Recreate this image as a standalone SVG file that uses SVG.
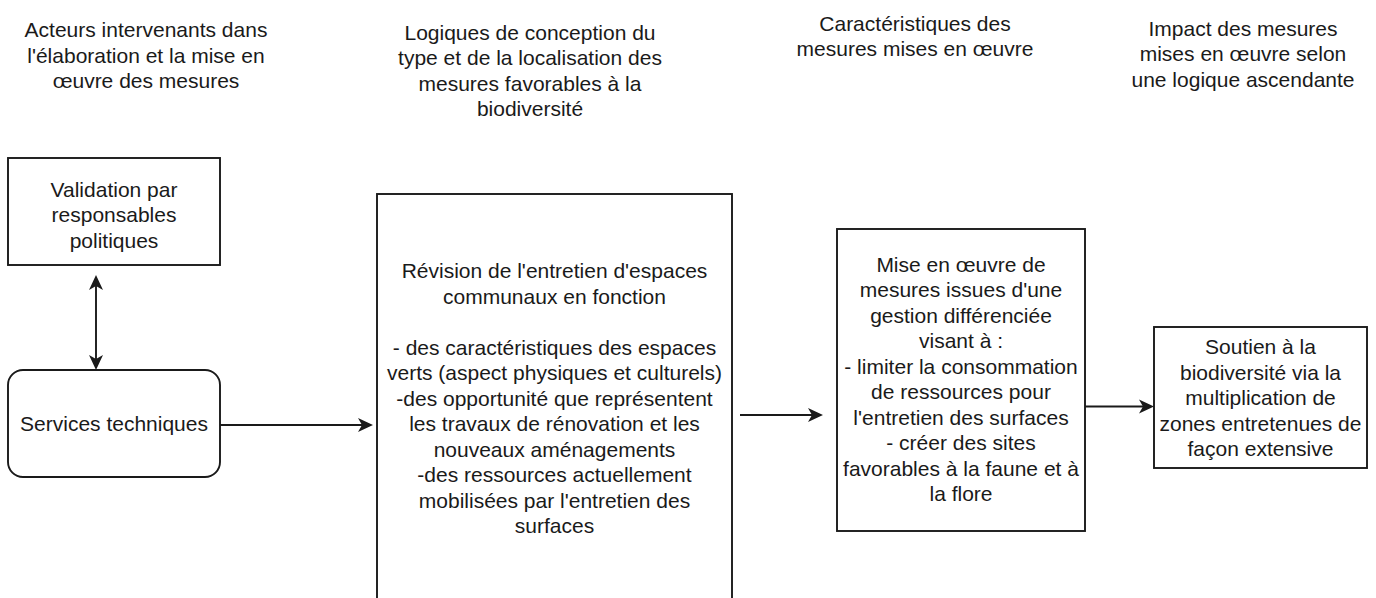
<svg xmlns="http://www.w3.org/2000/svg" width="1376" height="598" viewBox="0 0 1376 598">
<style>
text{font-family:"Liberation Sans",Arial,sans-serif;font-size:21px;fill:#1a1a1a;text-anchor:middle}
.box{fill:#fff;stroke:#1a1a1a;stroke-width:1.9}
.edge{fill:none;stroke:#1a1a1a;stroke-width:1.9}
</style>
<defs>
<marker id="arr" viewBox="-17 -9 18 18" refX="-6" refY="0" markerWidth="18" markerHeight="18" markerUnits="userSpaceOnUse" orient="auto-start-reverse">
<path d="M0,0 L-15,-7 L-11,0 L-15,7 Z" fill="#1a1a1a"/>
</marker>
</defs>
<rect width="1376" height="598" fill="#fff"/>

<g id="h1">
<text><tspan x="146" y="37">Acteurs intervenants dans</tspan><tspan x="146" y="62.5">l'élaboration et la mise en</tspan><tspan x="146" y="88">œuvre des mesures</tspan></text>
</g>
<g id="h2">
<text><tspan x="530" y="39.5">Logiques de conception du</tspan><tspan x="530" y="65">type et de la localisation des</tspan><tspan x="530" y="90.5">mesures favorables à la</tspan><tspan x="530" y="116">biodiversité</tspan></text>
</g>
<g id="h3">
<text><tspan x="915" y="30.5">Caractéristiques des</tspan><tspan x="915" y="56">mesures mises en œuvre</tspan></text>
</g>
<g id="h4">
<text><tspan x="1243" y="35.5">Impact des mesures</tspan><tspan x="1243" y="61">mises en œuvre selon</tspan><tspan x="1243" y="86.5">une logique ascendante</tspan></text>
</g>

<g id="validation">
<rect class="box" x="8" y="158" width="212" height="107"/>
<text><tspan x="114" y="196.5">Validation par</tspan><tspan x="114" y="222">responsables</tspan><tspan x="114" y="247.5">politiques</tspan></text>
</g>
<g id="services">
<rect class="box" x="8" y="370" width="212" height="107" rx="15" ry="15"/>
<text x="114" y="431">Services techniques</text>
</g>
<g id="revision">
<rect class="box" x="377" y="194" width="355" height="430"/>
<text><tspan x="554.5" y="278">Révision de l'entretien d'espaces</tspan><tspan x="554.5" y="303.5">communaux en fonction</tspan><tspan x="554.5" y="354.5">- des caractéristiques des espaces</tspan><tspan x="554.5" y="380">verts (aspect physiques et culturels)</tspan><tspan x="554.5" y="405.5">-des opportunité que représentent</tspan><tspan x="554.5" y="431">les travaux de rénovation et les</tspan><tspan x="554.5" y="456.5">nouveaux aménagements</tspan><tspan x="554.5" y="482">-des ressources actuellement</tspan><tspan x="554.5" y="507.5">mobilisées par l'entretien des</tspan><tspan x="554.5" y="533">surfaces</tspan></text>
</g>
<g id="mise">
<rect class="box" x="837" y="229" width="248" height="302"/>
<text><tspan x="961" y="271.5">Mise en œuvre de</tspan><tspan x="961" y="297">mesures issues d'une</tspan><tspan x="961" y="322.5">gestion différenciée</tspan><tspan x="961" y="348">visant à :</tspan><tspan x="961" y="373.5">- limiter la consommation</tspan><tspan x="961" y="399">de ressources pour</tspan><tspan x="961" y="424.5">l'entretien des surfaces</tspan><tspan x="961" y="450">- créer des sites</tspan><tspan x="961" y="475.5">favorables à la faune et à</tspan><tspan x="961" y="501">la flore</tspan></text>
</g>
<g id="soutien">
<rect class="box" x="1154" y="327" width="213" height="141"/>
<text><tspan x="1260.5" y="354">Soutien à la</tspan><tspan x="1260.5" y="379.5">biodiversité via la</tspan><tspan x="1260.5" y="405">multiplication de</tspan><tspan x="1260.5" y="430.5">zones entretenues de</tspan><tspan x="1260.5" y="456">façon extensive</tspan></text>
</g>

<g id="connectors">
<path class="edge" d="M96,281 L96,364" marker-start="url(#arr)" marker-end="url(#arr)"/>
<path class="edge" d="M220,425 L367,425" marker-end="url(#arr)"/>
<path class="edge" d="M740,415 L817,415" marker-end="url(#arr)"/>
<path class="edge" d="M1085,406.5 L1148,406.5" marker-end="url(#arr)"/>
</g>
</svg>
